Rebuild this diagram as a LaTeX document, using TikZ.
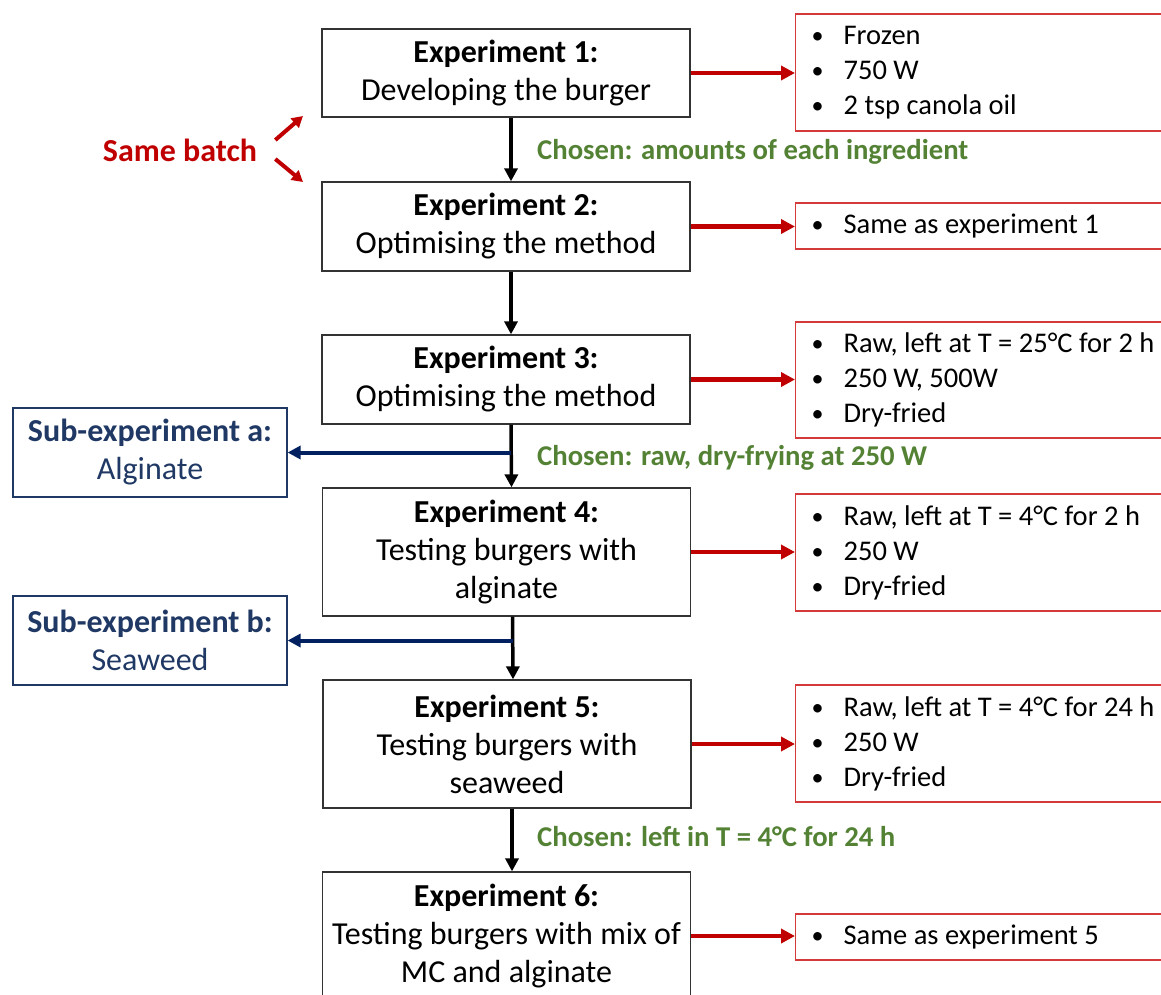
\documentclass[tikz,border=0pt]{standalone}
\usepackage{fontspec}
\setmainfont{Carlito}
\usetikzlibrary{arrows.meta,calc}
\definecolor{arrred}{HTML}{C00000}
\definecolor{boxred}{HTML}{D43A3A}
\definecolor{txtred}{HTML}{C00000}
\definecolor{dblue}{HTML}{1F3864}
\definecolor{ablue}{HTML}{002060}
\definecolor{cgreen}{HTML}{548235}
\newcommand{\bul}{\makebox[32pt][l]{\raisebox{1pt}{\fontsize{24}{24}\selectfont •}}}
\begin{document}
\begin{tikzpicture}[x=1pt,y=-1pt,
  expbox/.style={draw=black!80, line width=1.3pt, fill=white, align=center,
    font=\fontsize{32}{38}\selectfont, inner sep=0pt, minimum width=368pt},
  subbox/.style={draw=dblue, line width=1.2pt, fill=white, align=center, text=dblue,
    font=\fontsize{32}{38}\selectfont, inner sep=0pt, minimum width=274pt, minimum height=89pt},
  redbox/.style={draw=boxred, line width=1.3pt, fill=white, anchor=west, align=flush left,
    text width=420pt, inner xsep=16pt, inner ysep=0pt,
    font=\fontsize{28.5}{35}\selectfont},
  chosen/.style={anchor=west, text=cgreen, inner sep=0pt,
    font=\fontsize{28.7}{34}\selectfont\bfseries},
  blackarr/.style={draw=black, line width=3.5pt, -{Triangle[length=13pt,width=13pt]}},
  redarr/.style={draw=arrred, line width=4.5pt, -{Triangle[length=14pt,width=14pt]}},
  bluearr/.style={draw=ablue, line width=4pt, -{Triangle[length=13pt,width=13pt]}},
  batcharr/.style={draw=arrred, line width=4pt, -{Triangle[length=11pt,width=12pt]}}
]
\path[use as bounding box] (0,0) rectangle (1161,994);
\clip (0,0) rectangle (1161,994);

% main experiment boxes
\node[expbox, minimum height=88pt] (e1) at (506,73) {{\bfseries Experiment 1:}\\Developing the burger};
\node[expbox, minimum height=89pt] (e2) at (506,226.5) {{\bfseries Experiment 2:}\\Optimising the method};
\node[expbox, minimum height=89pt] (e3) at (506,379.5) {{\bfseries Experiment 3:}\\Optimising the method};
\node[expbox, minimum height=128pt] (e4) at (506.5,552) {{\bfseries Experiment 4:}\\Testing burgers with\\alginate};
\node[expbox, minimum height=128pt] (e5) at (507,744) {{\bfseries Experiment 5:}\\Testing burgers with\\seaweed};
\node[expbox, minimum height=128pt] (e6) at (506.5,936) {{\bfseries Experiment 6:}\\Testing burgers with mix of\\MC and alginate};

% sub-experiment boxes
\node[subbox] (sa) at (150,452.5) {{\bfseries Sub-experiment a:}\\Alginate};
\node[subbox] (sb) at (150,640.5) {{\bfseries Sub-experiment b:}\\Seaweed};

% red condition boxes
\node[redbox, minimum height=117pt] (r1) at (795,72.5) {\bul Frozen\\\bul 750 W\\\bul 2 tsp canola oil};
\node[redbox, minimum height=46pt] (r2) at (795,226) {\bul Same as experiment 1};
\node[redbox, minimum height=116pt] (r3) at (795,380) {\bul Raw, left at T = 25°C for 2 h\\\bul 250 W, 500W\\\bul Dry-fried};
\node[redbox, minimum height=117pt] (r4) at (795,552.5) {\bul Raw, left at T = 4°C for 2 h\\\bul 250 W\\\bul Dry-fried};
\node[redbox, minimum height=117pt] (r5) at (795,743.5) {\bul Raw, left at T = 4°C for 24 h\\\bul 250 W\\\bul Dry-fried};
\node[redbox, minimum height=46pt] (r6) at (795,937) {\bul Same as experiment 5};

% same batch
\node[text=txtred, font=\fontsize{32}{38}\selectfont\bfseries, inner sep=0pt] (batch) at (180,150) {Same batch};
\coordinate (b1) at (303,116);
\coordinate (b2) at (303,182);
\draw[batcharr] ([shift={(18,-10)}]batch.east) -- (b1);
\draw[batcharr] ([shift={(18,9)}]batch.east) -- (b2);

% chosen labels
\node[chosen] (c1) at (537,152) {Chosen: amounts of each ingredient};
\node[chosen] (c2) at (537,458) {Chosen: raw, dry-frying at 250 W};
\node[chosen] (c3) at (537,837) {Chosen: left in T = 4°C for 24 h};

% vertical flow arrows
\draw[blackarr] ([xshift=5pt]e1.south) -- ([xshift=5pt]e2.north);
\draw[blackarr] ([xshift=5pt]e2.south) -- ([xshift=5pt]e3.north);
\draw[blackarr] ([xshift=5pt]e3.south) -- ([xshift=5pt]e4.north);
\draw[blackarr] ([xshift=6pt]e4.south) -- ([xshift=6pt]e5.north);
\draw[blackarr] ([xshift=5pt]e5.south) -- ([xshift=5.5pt]e6.north);

% branches to sub-experiments
\coordinate (j3) at ([xshift=5pt]e3.south);
\coordinate (j4) at ([xshift=6pt]e4.south);
\draw[bluearr] (j3 |- sa.east) -- (sa.east);
\draw[bluearr] (j4 |- sb.east) -- (sb.east);

% arrows to condition boxes
\draw[redarr] (e1.east) -- (e1.east -| r1.west);
\draw[redarr] (e2.east) -- (e2.east -| r2.west);
\draw[redarr] (e3.east) -- (e3.east -| r3.west);
\draw[redarr] (e4.east) -- (e4.east -| r4.west);
\draw[redarr] (e5.east) -- (e5.east -| r5.west);
\draw[redarr] (e6.east) -- (e6.east -| r6.west);
\end{tikzpicture}
\end{document}
